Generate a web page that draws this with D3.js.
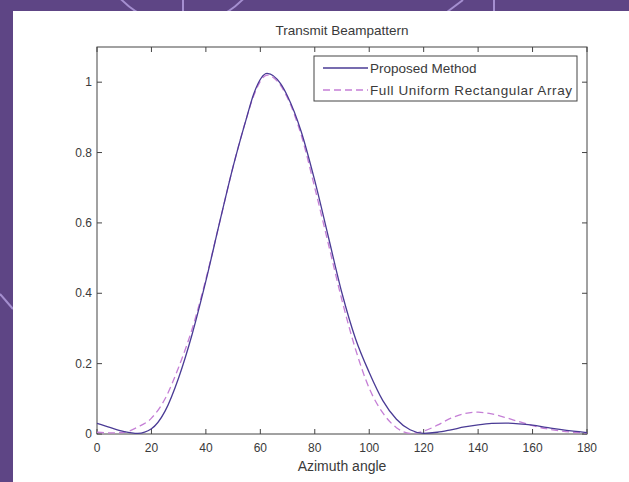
<!DOCTYPE html>
<html>
<head>
  <script src="https://cdn.jsdelivr.net/npm/d3@7"></script>
  <style>
    body { margin: 0; background: #5e4585; }
    svg { display: block; }
    text { font-family: "Liberation Sans", Arial, sans-serif; fill: #3a3a3a; }
  </style>
</head>
<body>
  <script>
    // beampattern samples (azimuth in degrees)
    const angles = [0, 5, 10, 15, 20, 25, 30, 35, 40, 45, 50, 55, 57.5, 62.5, 67.5, 70, 75, 80, 85, 90,
      95, 100, 105, 110, 115, 120, 125, 130, 135, 140, 145, 150, 155, 160, 165, 170, 175, 180]
    const proposed = [0.030, 0.018, 0.007, 0.002, 0.015, 0.065, 0.16, 0.285, 0.435, 0.60, 0.76, 0.90, 0.965, 1.025, 0.995, 0.96, 0.86, 0.72, 0.56, 0.40,
      0.27, 0.175, 0.095, 0.042, 0.012, 0.002, 0.005, 0.012, 0.02, 0.026, 0.03, 0.031, 0.029, 0.025, 0.019, 0.013, 0.008, 0.004]
    const fullURA = [0.005, 0.003, 0.005, 0.02, 0.045, 0.10, 0.19, 0.30, 0.44, 0.60, 0.76, 0.90, 0.96, 1.02, 0.99, 0.955, 0.85, 0.70, 0.54, 0.38,
      0.24, 0.13, 0.06, 0.018, 0.002, 0.008, 0.025, 0.045, 0.058, 0.062, 0.057, 0.047, 0.035, 0.024, 0.015, 0.009, 0.005, 0.003]
    const xTicks = [0, 20, 40, 60, 80, 100, 120, 140, 160, 180]
    const yTicks = [0, 0.2, 0.4, 0.6, 0.8, 1]
    const legendNames = ['Proposed Method', 'Full Uniform Rectangular Array']

    const W = 629, H = 482
    const svg = d3.select('body').append('svg').attr('width', W).attr('height', H)

    // decorative background arcs
    const deco = svg.append('g').attr('fill', 'none').attr('stroke', '#a58fd0').attr('stroke-width', 2)
    deco.append('circle').attr('cx', 182).attr('cy', -60).attr('r', 85)
    deco.append('line').attr('x1', 183).attr('y1', 0).attr('x2', 183).attr('y2', 12)
    deco.append('line').attr('x1', 463).attr('y1', 0).attr('x2', 447).attr('y2', 12)
    deco.append('line').attr('x1', 494).attr('y1', 0).attr('x2', 494).attr('y2', 12)
    deco.append('line').attr('x1', 0).attr('y1', 294).attr('x2', 13).attr('y2', 309)

    // white figure area
    svg.append('rect').attr('x', 13).attr('y', 11).attr('width', W - 13).attr('height', H - 11).attr('fill', '#fff')

    const m = { left: 97, right: 587, top: 47, bottom: 434 }
    const x = d3.scaleLinear().domain([0, 180]).range([m.left, m.right])
    const y = d3.scaleLinear().domain([0, 1.1]).range([m.bottom, m.top])

    const axisColor = '#444'
    const tick = 5

    // box
    svg.append('rect').attr('x', m.left).attr('y', m.top)
      .attr('width', m.right - m.left).attr('height', m.bottom - m.top)
      .attr('fill', 'none').attr('stroke', axisColor).attr('stroke-width', 1)

    const ax = svg.append('g').attr('stroke', axisColor).attr('stroke-width', 1)
    xTicks.forEach(t => {
      ax.append('line').attr('x1', x(t)).attr('x2', x(t)).attr('y1', m.bottom).attr('y2', m.bottom - tick)
      ax.append('line').attr('x1', x(t)).attr('x2', x(t)).attr('y1', m.top).attr('y2', m.top + tick)
    })
    yTicks.forEach(t => {
      ax.append('line').attr('x1', m.left).attr('x2', m.left + tick).attr('y1', y(t)).attr('y2', y(t))
      ax.append('line').attr('x1', m.right).attr('x2', m.right - tick).attr('y1', y(t)).attr('y2', y(t))
    })

    svg.append('g').selectAll('text').data(xTicks).join('text')
      .attr('x', d => x(d)).attr('y', m.bottom + 18)
      .attr('text-anchor', 'middle').attr('font-size', 12)
      .text(d => d)
    svg.append('g').selectAll('text').data(yTicks).join('text')
      .attr('x', m.left - 5).attr('y', d => y(d) + 4)
      .attr('text-anchor', 'end').attr('font-size', 12)
      .text(d => d)

    svg.append('text').attr('x', (m.left + m.right) / 2).attr('y', 35)
      .attr('text-anchor', 'middle').attr('font-size', 13.5).text('Transmit Beampattern')
    svg.append('text').attr('x', (m.left + m.right) / 2).attr('y', 471)
      .attr('text-anchor', 'middle').attr('font-size', 14).text('Azimuth angle')

    const line = d3.line().x((d, i) => x(angles[i])).y(d => y(d)).curve(d3.curveMonotoneX)

    svg.append('path').attr('d', line(fullURA))
      .attr('fill', 'none').attr('stroke', '#c57fd6').attr('stroke-width', 1.3)
      .attr('stroke-dasharray', '7,4')
    svg.append('path').attr('d', line(proposed))
      .attr('fill', 'none').attr('stroke', '#4a3b95').attr('stroke-width', 1.3)

    // legend
    const lg = svg.append('g').attr('transform', 'translate(314,56)')
    lg.append('rect').attr('width', 263).attr('height', 45)
      .attr('fill', '#fff').attr('stroke', axisColor).attr('stroke-width', 1)
    const styles = [{ c: '#4a3b95', d: null }, { c: '#c57fd6', d: '7,4' }]
    legendNames.forEach((n, i) => {
      const yy = 12 + i * 22
      lg.append('line').attr('x1', 9).attr('x2', 54).attr('y1', yy).attr('y2', yy)
        .attr('stroke', styles[i].c).attr('stroke-width', 1.3)
        .attr('stroke-dasharray', styles[i].d)
      lg.append('text').attr('x', 56).attr('y', yy + 5).attr('font-size', 13.5)
        .attr('textLength', i === 1 ? 202 : null).text(n)
    })
  </script>
</body>
</html>
